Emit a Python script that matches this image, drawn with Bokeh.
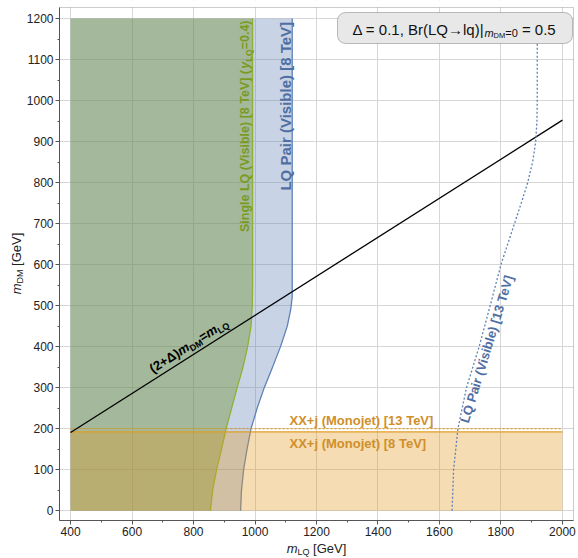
import math
from bokeh.plotting import figure
from bokeh.models import Label, BoxAnnotation, FixedTicker, Range1d
from bokeh.embed import file_html
from bokeh.resources import INLINE

# ---------------- data ----------------
mlq_min, mlq_max = 400, 2000
delta = 0.1

# Single LQ (visible) 8 TeV boundary
single_mdm = [0, 50, 100, 150, 200, 250, 300, 350, 400, 450, 500, 550, 1200]
single_mlq = [855, 862, 875, 891, 906, 924, 942, 961, 976, 987, 991, 992, 992]

# LQ pair (visible) 8 TeV boundary
pair8_mdm = [0, 50, 100, 150, 200, 250, 300, 350, 400, 450, 490, 521, 1200]
pair8_mlq = [953, 956, 963, 974, 987, 1007, 1030, 1057, 1083, 1105, 1116, 1121, 1121]

# LQ pair (visible) 13 TeV boundary (dotted)
pair13_mdm = [0, 100, 200, 300, 400, 500, 600, 700, 750, 800, 850, 900, 950, 1000, 1200]
pair13_mlq = [1641, 1646, 1660, 1688, 1729, 1765, 1800, 1844, 1866, 1887, 1903, 1913, 1917, 1918, 1918]

# Monojet limits
mono8_mdm = 192
mono13_mdm = 200

x_ticks = [400, 600, 800, 1000, 1200, 1400, 1600, 1800, 2000]
x_minor = [500, 700, 900, 1100, 1300, 1500, 1700, 1900]
y_ticks = [0, 100, 200, 300, 400, 500, 600, 700, 800, 900, 1000, 1100, 1200]
y_minor = [50, 150, 250, 350, 450, 550, 650, 750, 850, 950, 1050, 1150]

# ---------------- layout ----------------
W, H = 578, 558
FL, FR, FT, FB = 59, 573, 7, 520          # visual plot frame in pixels
X0, X1 = 364, 2036                        # data range of that frame
Y0, Y1 = -24, 1227

def px2x(px):
    return X0 + (px - FL) / (FR - FL) * (X1 - X0)

def py2y(py):
    return Y0 + (FB - py) / (FB - FT) * (Y1 - Y0)

FONT = "Liberation Sans"
NB = "\u00a0"
REG = {' ': 278, NB: 278, '(': 333, ')': 333, '+': 584, ',': 278, '.': 278, '=': 584, '[': 278,
       ']': 278, '|': 260, 'A': 667, 'B': 667, 'D': 722, 'G': 778, 'L': 556, 'M': 833, 'P': 667,
       'Q': 778, 'S': 667, 'T': 611, 'V': 667, 'X': 667, 'a': 556, 'b': 556, 'e': 556, 'g': 556,
       'i': 222, 'j': 222, 'l': 222, 'm': 833, 'n': 556, 'o': 556, 'q': 556, 'r': 333, 's': 500,
       't': 278, 'y': 500, 'Δ': 668, '→': 1000}
BOLD = {' ': 278, NB: 278, '(': 333, ')': 333, '+': 584, ',': 278, '.': 278, '=': 584, '[': 333,
        ']': 333, '|': 280, 'D': 722, 'L': 611, 'M': 833, 'P': 667, 'Q': 778, 'S': 667, 'T': 611,
        'V': 667, 'X': 667, 'a': 556, 'b': 611, 'e': 556, 'g': 611, 'i': 278, 'j': 278, 'l': 278,
        'm': 889, 'n': 611, 'o': 611, 'r': 389, 's': 556, 't': 333, 'y': 556, 'Δ': 722}
for d in "0123456789":
    REG[d] = 556
    BOLD[d] = 556

def tw(s, size, bold):
    t = BOLD if bold else REG
    return sum(t.get(c, 556) for c in s) * size / 1000.0

BASE_FIX = 0.26   # rendered alphabetic baseline sits lower; lift by this fraction of size

def place(p, x, y, runs, angle_deg=0.0, align="left", color="black", bold=False):
    """runs: (text, size_px, italic, baseline_shift_px). x, y: pixel baseline anchor."""
    th = math.radians(angle_deg)
    ux, uy = math.cos(th), -math.sin(th)
    nx, ny = -math.sin(th), -math.cos(th)
    total = sum(tw(r[0], r[1], bold) for r in runs)
    if align == "right":
        x -= ux * total; y -= uy * total
    elif align == "center":
        x -= ux * total / 2; y -= uy * total / 2
    cur = 0.0
    for text, size, italic, shift in runs:
        txt = text
        if txt.startswith(" "):
            txt = NB + txt[1:]
        if txt.endswith(" "):
            txt = txt[:-1] + NB
        s = shift + BASE_FIX * size
        px = x + ux * cur + nx * s
        py = y + uy * cur + ny * s
        style = ("bold " if bold else "") + ("italic" if italic else "")
        style = style.strip() or "normal"
        p.add_layout(Label(x=px2x(px), y=py2y(py), text=txt, angle=th,
                           text_font=FONT, text_font_size=f"{size}px",
                           text_font_style=style, text_color=color,
                           text_baseline="alphabetic", text_align="left"))
        cur += tw(txt, size, bold)

# ---------------- figure ----------------
# The Bokeh frame covers the whole canvas; the axes are fixed at the plot box edges
p = figure(width=W, height=H, output_backend="svg", toolbar_location=None, title=None,
           x_range=Range1d(px2x(0), px2x(W)), y_range=Range1d(py2y(H), py2y(0)),
           min_border_left=0, min_border_right=0, min_border_top=0, min_border_bottom=0)
p.background_fill_color = "white"
p.border_fill_color = "white"
p.outline_line_color = None

xt = FixedTicker(ticks=x_ticks, minor_ticks=x_minor)
yt = FixedTicker(ticks=y_ticks, minor_ticks=y_minor)
p.xaxis.ticker = xt
p.yaxis.ticker = yt
p.xgrid.ticker = xt
p.ygrid.ticker = yt
p.xaxis.fixed_location = Y0
p.yaxis.fixed_location = X0
p.xaxis.bounds = (X0, X1)
p.yaxis.bounds = (Y0, Y1)
for g in (p.xgrid, p.ygrid):
    g.grid_line_color = "#d6d6d6"
    g.grid_line_width = 1
for ax in (p.xaxis, p.yaxis):
    ax.axis_line_color = "#555555"
    ax.major_tick_line_color = "#555555"
    ax.minor_tick_line_color = "#555555"
    ax.major_tick_out = 4
    ax.major_tick_in = 0
    ax.minor_tick_out = 2
    ax.minor_tick_in = 0
    ax.major_label_text_font = FONT
    ax.major_label_text_font_size = "12px"
    ax.major_label_text_color = "#222222"
    ax.major_label_standoff = 2

# white margins around the plot box (hide grid lines outside it)
for kw in (dict(left=px2x(0), right=X0, bottom=py2y(H), top=py2y(0)),
           dict(left=X1, right=px2x(W), bottom=py2y(H), top=py2y(0)),
           dict(left=px2x(0), right=px2x(W), bottom=Y1, top=py2y(0)),
           dict(left=px2x(0), right=px2x(W), bottom=py2y(H), top=Y0)):
    p.add_layout(BoxAnnotation(fill_color="white", fill_alpha=1.0, line_color=None,
                               level="underlay", **kw))

# regions
blue_x = [mlq_min] + pair8_mlq + [mlq_min]
blue_y = [0] + pair8_mdm + [pair8_mdm[-1]]
p.patch(blue_x, blue_y, fill_color="#5e81b5", fill_alpha=0.34, line_color=None)
p.line(pair8_mlq, pair8_mdm, line_color="#5e81b5", line_width=1.3)

green_x = [mlq_min] + single_mlq + [mlq_min]
green_y = [0] + single_mdm + [single_mdm[-1]]
p.patch(green_x, green_y, fill_color="#6b8e23", fill_alpha=0.39, line_color=None)
p.line(single_mlq, single_mdm, line_color="#8fb032", line_width=1.3)

p.patch([mlq_min, mlq_max, mlq_max, mlq_min], [0, 0, mono8_mdm, mono8_mdm],
        fill_color="#e19c24", fill_alpha=0.35, line_color=None)
p.line([mlq_min, mlq_max], [mono8_mdm, mono8_mdm], line_color="#e19c24", line_width=1.3)
p.line([mlq_min, mlq_max], [mono13_mdm, mono13_mdm], line_color="#e19c24", line_width=1.3,
       line_dash="2 2")

diag_x = [mlq_min, mlq_max]
diag_y = [v / (2 + delta) for v in diag_x]
p.line(diag_x, diag_y, line_color="black", line_width=1.3)

p.line(pair13_mlq, pair13_mdm, line_color="#5e81b5", line_width=1.3, line_dash="2 2")

# plot box outline
p.add_layout(BoxAnnotation(left=X0, right=X1, bottom=Y0, top=Y1, fill_alpha=0.0,
                           line_color="#555555", line_width=1, level="annotation"))

# ---------------- texts ----------------
GREEN_T = "#7a9a22"
BLUE_T = "#4f6fa3"
ORANGE_T = "#cf8f2a"

place(p, 248, 20, [("Single LQ (Visible) [8 TeV] (", 12.5, False, 0), ("y", 12.5, True, 0),
                   ("LQ", 9, False, -3), ("=0.4)", 12.5, False, 0)],
      angle_deg=90, align="right", color=GREEN_T, bold=True)
place(p, 289, 20, [("LQ Pair (Visible) [8 TeV]", 15, False, 0)],
      angle_deg=90, align="right", color=BLUE_T, bold=True)
place(p, 467, 423, [("LQ Pair (Visible) [13 TeV]", 13, False, 0)],
      angle_deg=73, color=BLUE_T, bold=True)
place(p, 289, 423.5, [("XX+j (Monojet) [13 TeV]", 13, False, 0)], color=ORANGE_T, bold=True)
place(p, 289, 446, [("XX+j (Monojet) [8 TeV]", 13, False, 0)], color=ORANGE_T, bold=True)

slope_px = (1 / (2 + delta)) * ((FB - FT) / (Y1 - Y0)) / ((FR - FL) / (X1 - X0))
diag_deg = math.degrees(math.atan(slope_px))
place(p, 152, 372, [("(2+Δ)", 13, False, 0), ("m", 13, True, 0), ("DM", 9, False, -3),
                    ("=", 13, False, 0), ("m", 13, True, 0), ("LQ", 9, False, -3)],
      angle_deg=diag_deg, color="black", bold=True)

# parameter box
p.add_layout(BoxAnnotation(left=px2x(337), right=px2x(572), top=py2y(12), bottom=py2y(43),
                           fill_color="#e8e8e8", fill_alpha=1.0, line_color="#333333",
                           line_width=1, border_radius=8, level="annotation"))
place(p, 352, 33, [("Δ = 0.1, Br(LQ→lq)|", 15, False, 0), ("m", 11, True, -2.5),
                   ("DM", 7.5, False, -4), ("=0", 11, False, -2.5), (" = 0.5", 15, False, 0)],
      color="#111111")

# axis titles
place(p, 316, 551, [("m", 13, True, 0), ("LQ", 9, False, -2.5), (" [GeV]", 13, False, 0)],
      align="center", color="#222222")
place(p, 19, 263, [("m", 13, True, 0), ("DM", 9, False, -3), (" [GeV]", 13, False, 0)],
      angle_deg=90, align="center", color="#222222")

open("out.html", "w").write(file_html(p, INLINE))
